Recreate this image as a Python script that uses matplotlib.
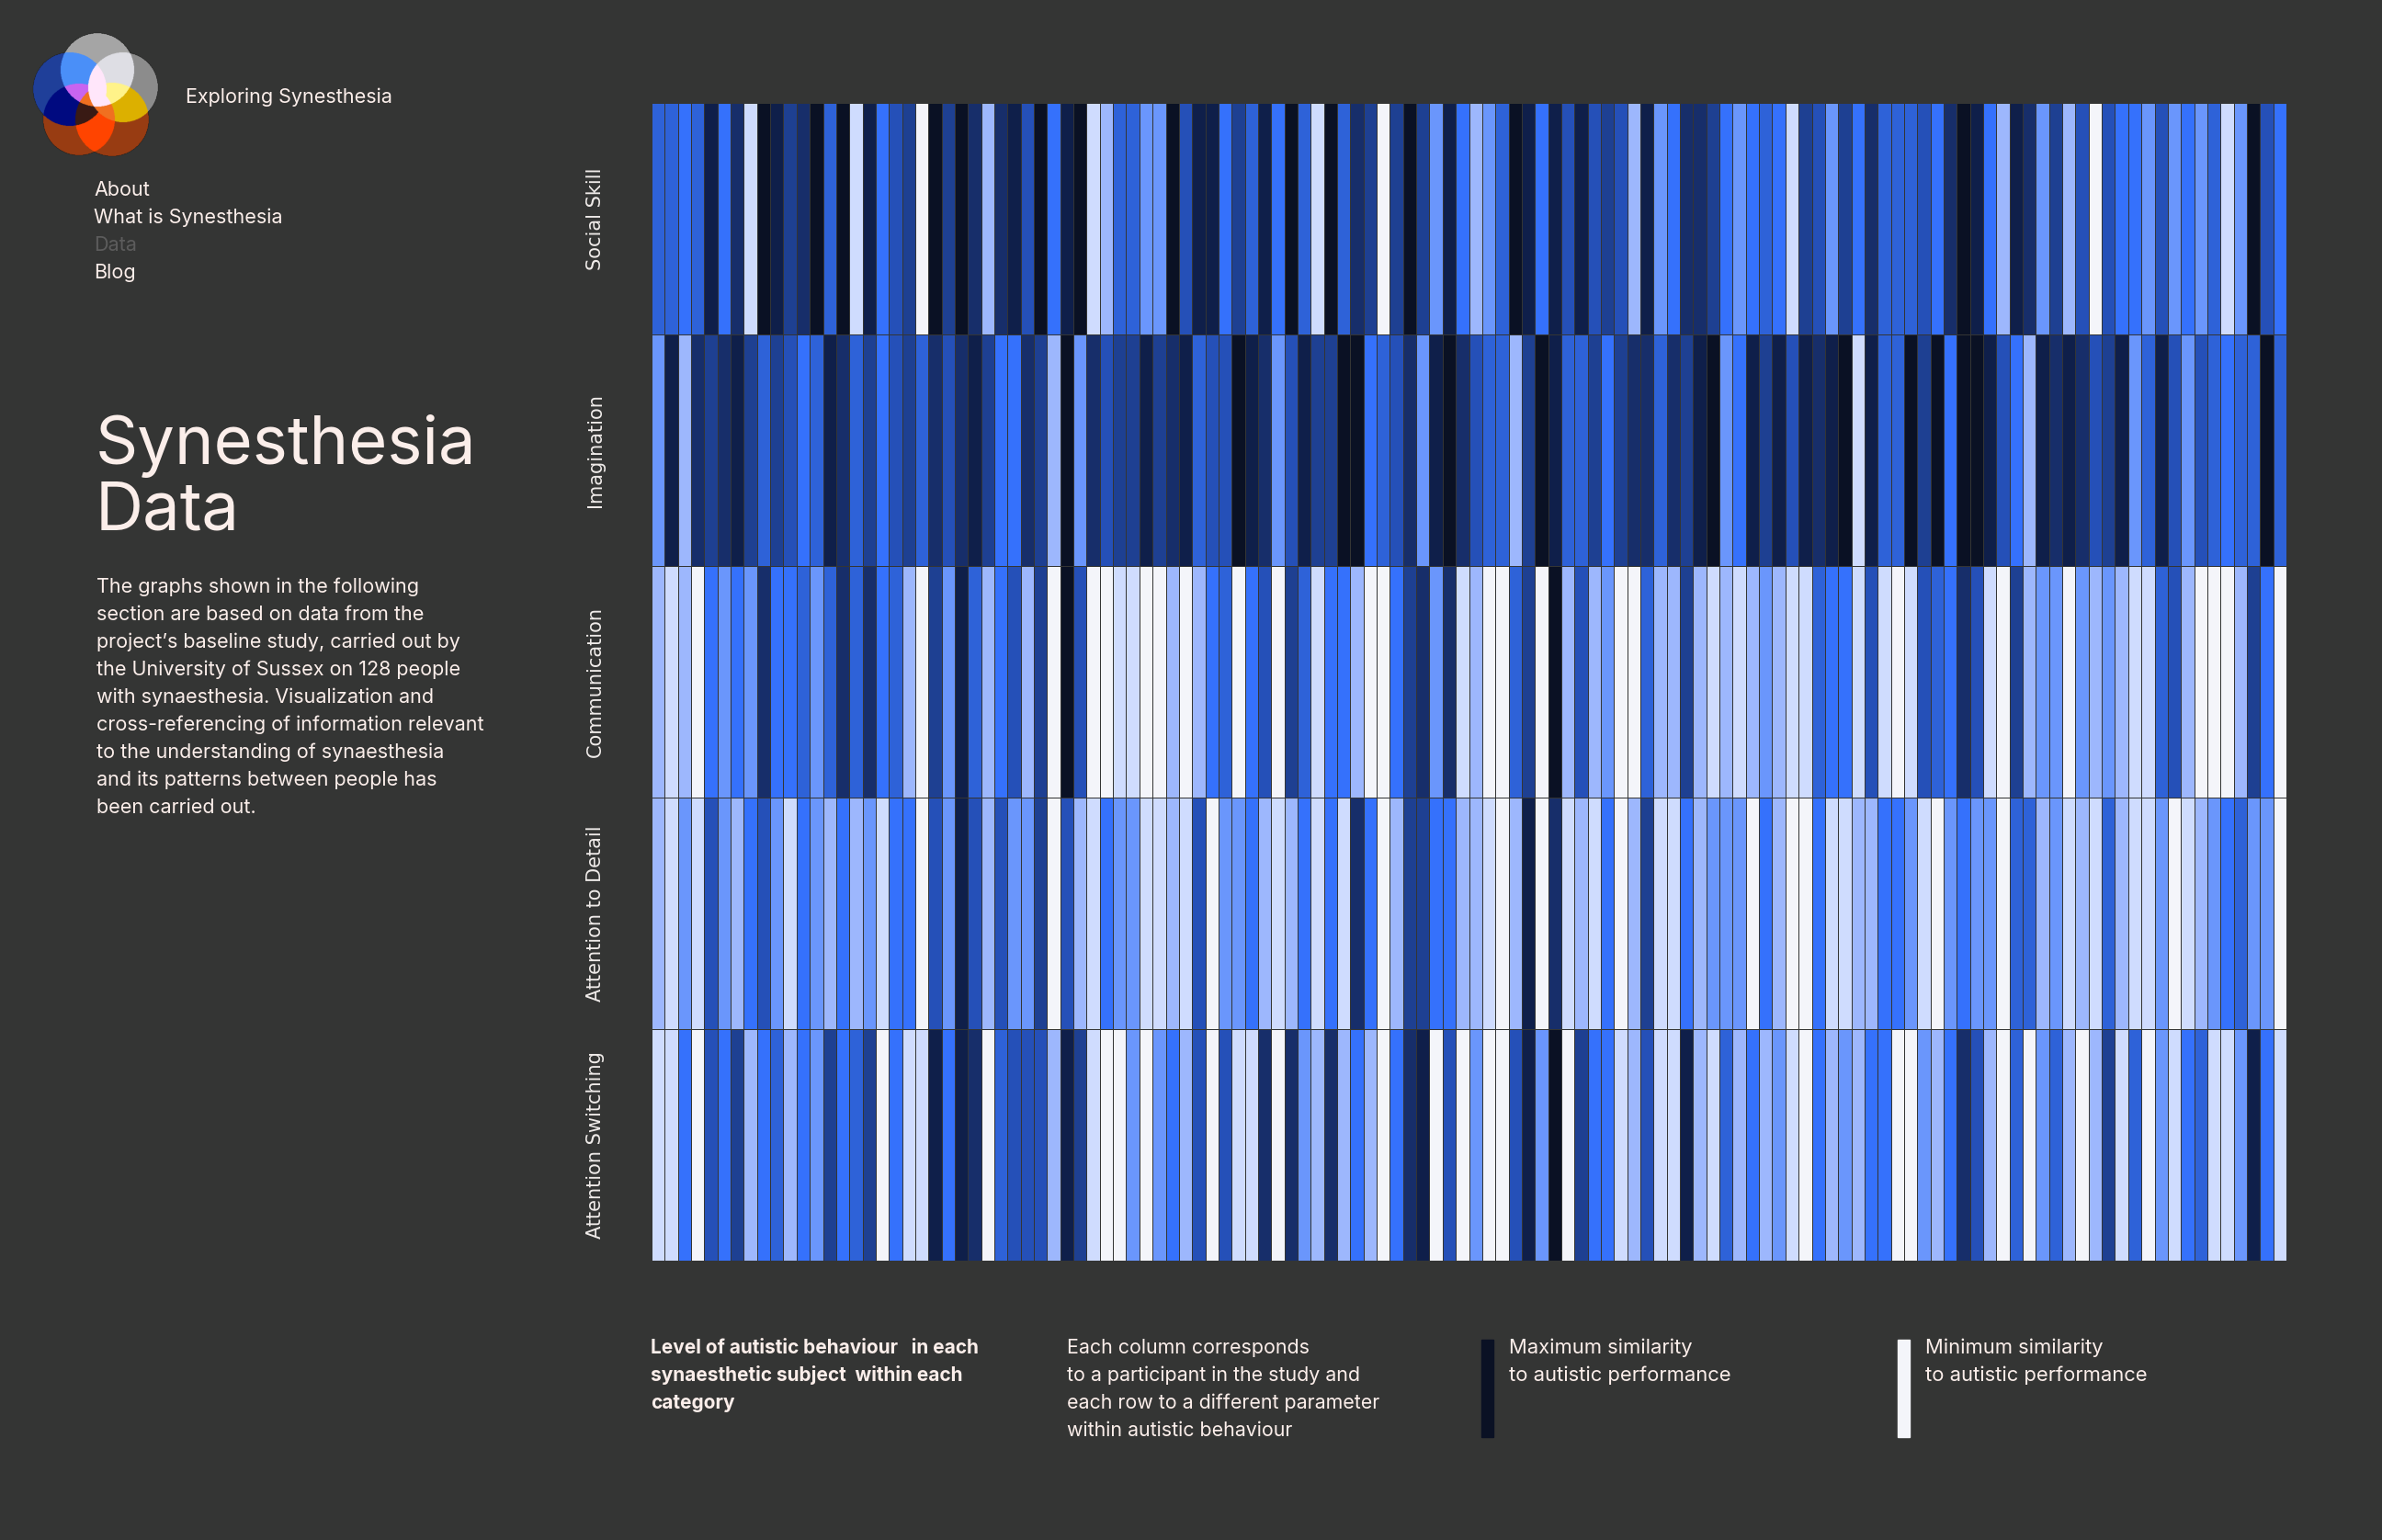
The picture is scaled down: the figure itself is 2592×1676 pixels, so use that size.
import numpy as np
import matplotlib
matplotlib.use("Agg")
import matplotlib.pyplot as plt
from matplotlib.colors import ListedColormap, BoundaryNorm, to_rgb

# level of autistic behaviour per participant (0 = max similarity, 10 = min similarity)
social_skill = [5, 5, 6, 5, 1, 6, 2, 9, 0, 1, 3, 2, 0, 5, 0, 9, 1, 6, 4, 3, 10, 0, 3, 0, 2, 8, 2, 1, 4, 0,
                6, 1, 0, 9, 8, 5, 5, 7, 7, 0, 4, 1, 1, 6, 3, 5, 1, 6, 0, 5, 9, 0, 5, 2, 3, 10, 3, 0, 3, 7, 1,
                6, 8, 7, 5, 0, 1, 6, 1, 4, 1, 4, 3, 4, 8, 1, 7, 6, 2, 2, 3, 6, 7, 6, 5, 6, 9, 3, 4, 7, 3, 6,
                2, 5, 5, 5, 4, 6, 2, 0, 1, 6, 8, 1, 2, 7, 3, 8, 4, 10, 4, 6, 6, 7, 4, 7, 6, 7, 5, 9, 7, 0, 4, 6]
imagination = [7, 1, 8, 2, 3, 2, 1, 3, 5, 3, 4, 6, 5, 1, 2, 5, 3, 6, 4, 3, 5, 2, 4, 2, 1, 3, 6, 6, 2, 3,
               8, 0, 7, 2, 4, 3, 3, 1, 3, 2, 1, 5, 4, 4, 0, 1, 2, 7, 4, 1, 3, 3, 0, 0, 6, 5, 4, 2, 7, 1, 0,
               2, 4, 5, 5, 8, 3, 0, 1, 5, 5, 3, 6, 3, 2, 2, 5, 2, 3, 1, 0, 7, 6, 1, 3, 1, 4, 1, 2, 1, 0, 9,
               1, 5, 5, 0, 3, 0, 6, 0, 0, 1, 4, 6, 8, 1, 2, 1, 2, 4, 3, 1, 7, 5, 1, 4, 7, 4, 5, 6, 5, 5, 0, 5]
communication = [8, 9, 8, 10, 6, 7, 6, 7, 2, 6, 6, 5, 7, 5, 2, 5, 2, 6, 5, 8, 10, 3, 7, 1, 5, 8, 6, 4, 8, 3,
                 10, 0, 4, 10, 10, 9, 9, 10, 10, 8, 10, 8, 6, 5, 10, 6, 4, 10, 3, 5, 9, 6, 6, 8, 10, 10, 6, 3, 2, 7, 2,
                 9, 8, 10, 10, 5, 3, 10, 0, 8, 4, 8, 7, 10, 10, 5, 8, 8, 3, 8, 9, 8, 9, 8, 7, 8, 9, 9, 5, 6, 6, 9,
                 4, 9, 10, 9, 4, 5, 6, 2, 4, 9, 10, 3, 8, 7, 7, 10, 7, 8, 7, 8, 9, 9, 5, 4, 8, 10, 10, 10, 8, 3, 6, 10]
attention_detail = [8, 9, 7, 9, 4, 7, 8, 6, 4, 7, 9, 6, 7, 8, 6, 8, 7, 9, 6, 6, 10, 4, 7, 1, 4, 8, 4, 7, 7, 3,
                    10, 4, 8, 9, 6, 7, 7, 9, 9, 8, 9, 4, 10, 7, 7, 6, 8, 9, 8, 6, 9, 6, 9, 2, 6, 10, 8, 3, 3, 6, 6,
                    8, 8, 9, 10, 8, 1, 10, 2, 9, 8, 9, 6, 10, 8, 3, 9, 9, 6, 8, 7, 7, 7, 10, 6, 8, 10, 10, 6, 9, 9, 8,
                    8, 6, 6, 7, 9, 10, 7, 6, 7, 7, 10, 5, 5, 8, 7, 9, 8, 9, 5, 8, 9, 9, 7, 10, 9, 8, 7, 6, 5, 7, 7, 10]
attention_switching = [9, 9, 6, 10, 4, 6, 3, 8, 6, 5, 8, 6, 7, 3, 6, 5, 3, 10, 6, 9, 9, 1, 6, 1, 2, 10, 5, 4, 4, 4,
                       8, 1, 3, 9, 10, 10, 7, 10, 7, 6, 8, 4, 10, 4, 9, 9, 2, 10, 2, 7, 8, 2, 8, 6, 8, 10, 6, 2, 1, 10, 4,
                       10, 7, 10, 10, 4, 1, 7, 0, 10, 3, 6, 6, 9, 8, 4, 9, 9, 1, 8, 9, 5, 8, 6, 8, 7, 9, 10, 6, 8, 7, 8,
                       6, 6, 10, 10, 7, 8, 6, 2, 4, 8, 10, 5, 10, 7, 5, 8, 10, 8, 3, 9, 5, 10, 7, 9, 6, 5, 9, 9, 7, 1, 6, 9]

categories = ["Social Skill", "Imagination", "Communication", "Attention to Detail", "Attention Switching"]

palette = ["#0a1124", "#0f1f4a", "#172e6a", "#1e4092", "#2550b8", "#2e62d8",
           "#3571fc", "#6a96fc", "#9db7fd", "#cfdcfe", "#f4f5fa"]

BG = "#343534"
FG = "#fbeeea"
W, H = 2592, 1676

plt.rcParams["font.family"] = ["Inter", "DejaVu Sans"]

fig = plt.figure(figsize=(W / 100, H / 100), dpi=100, facecolor=BG)


def ftext(x, y, s, **kw):
    kw.setdefault("color", FG)
    kw.setdefault("va", "baseline")
    fig.text(x / W, 1 - y / H, s, **kw)


# logo: five overlapping circles
lw, lh = 200, 190
yy, xx = np.mgrid[0:lh * 2, 0:lw * 2] / 2.0 + 0.25


def disc(cx, cy, r):
    return (xx - cx) ** 2 + (yy - cy) ** 2 <= r ** 2


T = disc(106, 76, 40)
R = disc(134, 95, 38)
B = disc(76, 97, 40)
L = disc(86, 130, 39)
Q = disc(122, 130, 40)
logo = np.zeros((lh * 2, lw * 2, 4))
rules = [
    (T, "#a6a6a6"), (R, "#8c8c8c"), (B, "#1f3f9a"), (L | Q, "#983c12"),
    (T & B, "#4a8ff8"), (T & R, "#dedee4"), (B & L, "#000a80"), (L & Q, "#ff4400"),
    (Q & R, "#dcb000"), (T & R & Q, "#fff38a"), (T & B & L, "#c864f0"),
    (B & L & Q, "#3a1a14"), (L & Q & (T | R), "#f07020"), (T & B & R, "#ffe6fa"),
    (T & L & R, "#ffe6fa"),
]
for mask, col in rules:
    logo[mask, :3] = to_rgb(col)
    logo[mask, 3] = 1
lax = fig.add_axes([0, 1 - lh / H, lw / W, lh / H])
lax.imshow(logo, extent=[0, lw, lh, 0], aspect="auto", interpolation="antialiased")
lax.axis("off")

# header and nav
ftext(202, 112, "Exploring Synesthesia", fontsize=15.5)
for i, item in enumerate(["About", "What is Synesthesia", "Data", "Blog"]):
    ftext(102, 213 + 30 * i, item, fontsize=15.5, color="#5c5c5c" if item == "Data" else FG)

# title + paragraph
ftext(104, 505, "Synesthesia", fontsize=52)
ftext(104, 576, "Data", fontsize=52)
para = ["The graphs shown in the following",
        "section are based on data from the",
        "project\u2019s baseline study, carried out by",
        "the University of Sussex on 128 people",
        "with synaesthesia. Visualization and",
        "cross-referencing of information relevant",
        "to the understanding of synaesthesia",
        "and its patterns between people has",
        "been carried out."]
for i, line in enumerate(para):
    ftext(105, 645 + 30 * i, line, fontsize=15.5)

# heatmap
data = np.array([social_skill, imagination, communication, attention_detail, attention_switching])
n_rows, n_cols = data.shape
cmap = ListedColormap(palette)
norm = BoundaryNorm(np.arange(-0.5, len(palette) + 0.5), len(palette))

x0, x1, y0, y1 = 709, 2488, 112, 1372
ax = fig.add_axes([x0 / W, 1 - y1 / H, (x1 - x0) / W, (y1 - y0) / H])
ax.pcolormesh(np.arange(n_cols + 1), np.arange(n_rows + 1), data, cmap=cmap, norm=norm,
              edgecolors="#343534", linewidth=0.7)
ax.set_xlim(0, n_cols)
ax.set_ylim(n_rows, 0)
ax.axis("off")
for i, cat in enumerate(categories):
    ax.text(-61 / (x1 - x0), i + 0.5, cat, transform=ax.get_yaxis_transform(),
            rotation=90, ha="center", va="center", fontsize=15,
            family=["DejaVu Sans"], color="#f0ecea")

# legend row
bold_lines = ["Level of autistic behaviour   in each",
              "synaesthetic subject  within each",
              "category"]
for i, line in enumerate(bold_lines):
    ftext(708, 1473 + 30 * i, line, fontsize=15, fontweight="bold")
desc_lines = ["Each column corresponds",
              "to a participant in the study and",
              "each row to a different parameter",
              "within autistic behaviour"]
for i, line in enumerate(desc_lines):
    ftext(1161, 1473 + 30 * i, line, fontsize=15.4)

for bx, col, txt in [(1612, palette[0], "Maximum similarity"), (2065, palette[-1], "Minimum similarity")]:
    fig.patches.append(plt.Rectangle((bx / W, 1 - 1564 / H), 13 / W, 106 / H,
                                     transform=fig.transFigure, color=col, zorder=3))
    ftext(bx + 30, 1473, txt, fontsize=15.8)
    ftext(bx + 30, 1503, "to autistic performance", fontsize=15.8)

fig.savefig("out.png", dpi=100, facecolor=BG)
